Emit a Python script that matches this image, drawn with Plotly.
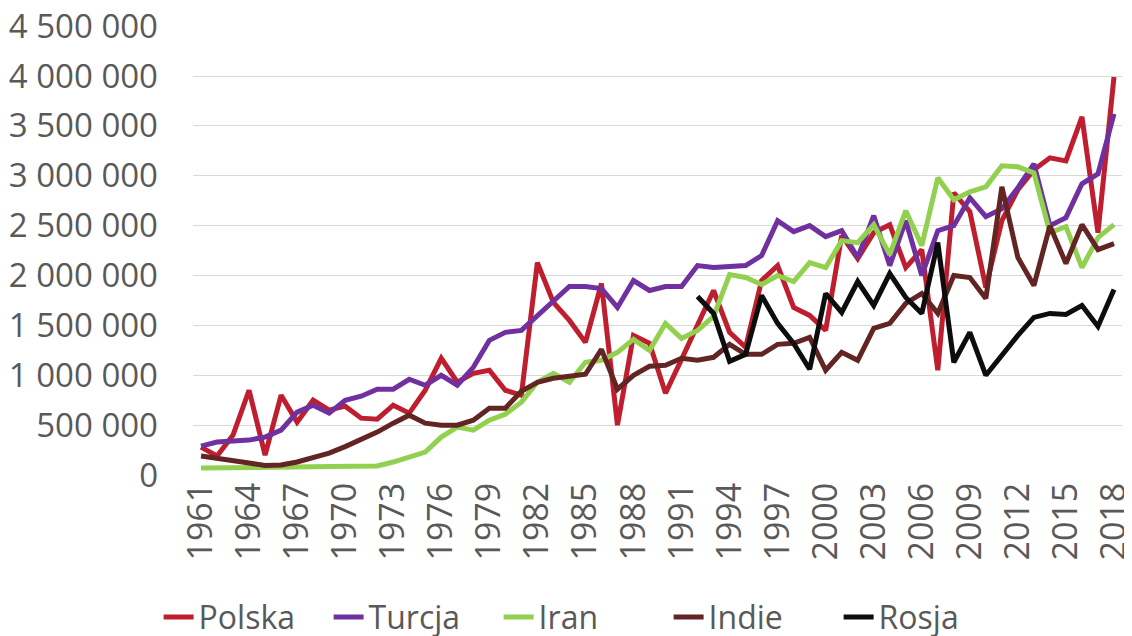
import plotly.graph_objects as go

# Lata
years = list(range(1961, 2019))
tick_years = list(range(1961, 2019, 3))
y_ticks = [0, 500000, 1000000, 1500000, 2000000, 2500000, 3000000, 3500000, 4000000, 4500000]

polska = [
    280000, 190000, 400000, 850000, 200000, 800000, 530000, 750000, 650000, 690000,
    570000, 560000, 700000, 620000, 850000, 1170000, 930000, 1020000, 1050000, 850000,
    800000, 2130000, 1730000, 1550000, 1330000, 1920000, 500000, 1400000, 1320000, 820000,
    1160000, 1520000, 1850000, 1430000, 1280000, 1950000, 2100000, 1680000, 1600000, 1450000,
    2400000, 2170000, 2430000, 2510000, 2080000, 2260000, 1050000, 2830000, 2640000, 1880000,
    2550000, 2860000, 3060000, 3180000, 3150000, 3590000, 2430000, 3990000,
]

turcja = [
    290000, 330000, 340000, 350000, 380000, 450000, 630000, 700000, 620000, 750000,
    790000, 860000, 860000, 960000, 900000, 1000000, 900000, 1080000, 1350000, 1430000,
    1450000, 1600000, 1750000, 1890000, 1890000, 1870000, 1680000, 1950000, 1850000, 1890000,
    1890000, 2100000, 2080000, 2090000, 2100000, 2200000, 2550000, 2440000, 2500000, 2390000,
    2450000, 2180000, 2600000, 2100000, 2550000, 2000000, 2450000, 2500000, 2780000, 2590000,
    2670000, 2880000, 3120000, 2500000, 2580000, 2920000, 3020000, 3620000,
]

iran = [
    70000, 70000, 70000, 72000, 72000, 75000, 80000, 82000, 85000, 90000,
    92000, 90000, 130000, 180000, 230000, 380000, 480000, 450000, 550000, 610000,
    730000, 930000, 1020000, 930000, 1130000, 1150000, 1230000, 1360000, 1250000, 1520000,
    1370000, 1450000, 1590000, 2010000, 1980000, 1910000, 2000000, 1940000, 2130000, 2080000,
    2350000, 2330000, 2510000, 2210000, 2650000, 2300000, 2980000, 2760000, 2840000, 2890000,
    3100000, 3090000, 3030000, 2430000, 2490000, 2080000, 2380000, 2510000,
]

indie = [
    190000, 170000, 140000, 120000, 95000, 100000, 130000, 180000, 220000, 285000,
    355000, 430000, 520000, 600000, 520000, 500000, 500000, 550000, 670000, 670000,
    840000, 930000, 970000, 990000, 1010000, 1260000, 860000, 1000000, 1090000, 1100000,
    1170000, 1150000, 1180000, 1310000, 1210000, 1210000, 1310000, 1320000, 1380000, 1050000,
    1230000, 1150000, 1470000, 1520000, 1720000, 1820000, 1620000, 2000000, 1980000, 1770000,
    2890000, 2180000, 1900000, 2500000, 2120000, 2510000, 2260000, 2320000,
]

# Rosja - dane od 1992
rosja = [None] * 31 + [
    1790000, 1620000, 1140000, 1210000, 1800000, 1520000, 1320000, 1060000, 1820000,
    1630000, 1940000, 1700000, 2020000, 1780000, 1620000, 2330000, 1130000, 1430000, 1000000,
    1200000, 1400000, 1580000, 1620000, 1610000, 1700000, 1490000, 1860000,
]

COLORS = {
    'Polska': '#BE1E2D',
    'Turcja': '#7030A0',
    'Iran': '#92D050',
    'Indie': '#632523',
    'Rosja': '#0D0D0D',
}

series = [
    ('Polska', polska),
    ('Turcja', turcja),
    ('Iran', iran),
    ('Indie', indie),
    ('Rosja', rosja),
]

FONT = 'Open Sans'
GREY = '#595959'

fig = go.Figure()

for name, values in series:
    fig.add_trace(go.Scatter(
        x=years,
        y=values,
        name=name,
        mode='lines',
        line=dict(color=COLORS[name], width=5),
        connectgaps=False,
    ))

# strona ma 8px marginesu, wiec figura jest o tyle mniejsza
fig.update_layout(
    width=1124,
    height=628,
    margin=dict(l=185, r=10, t=18, b=161, autoexpand=False),
    paper_bgcolor='white',
    plot_bgcolor='white',
    separators='. ',
    font=dict(family=FONT, size=33, color=GREY),
    showlegend=True,
    legend=dict(
        orientation='h',
        xref='container', yref='container',
        x=0.134, xanchor='left',
        y=0.03, yanchor='middle',
        entrywidth=125,
        font=dict(size=32, color=GREY),
    ),
)

fig.update_xaxes(
    range=[1960.5, 2018.5],
    tickvals=tick_years,
    tickangle=-90,
    showgrid=False,
    showline=False,
    zeroline=False,
    ticks='',
    automargin=False,
    ticklabeloverflow='allow',
    tickfont=dict(size=34, color=GREY),
)

fig.update_yaxes(
    range=[0, 4502000],
    tickvals=y_ticks,
    tickformat=',d',
    showgrid=True,
    gridcolor='#D9D9D9',
    gridwidth=1,
    zeroline=False,
    ticks='',
    automargin=False,
    ticklabeloverflow='allow',
    ticklabelstandoff=34,
    tickfont=dict(size=33, color=GREY),
)

fig.write_html("out.html")
